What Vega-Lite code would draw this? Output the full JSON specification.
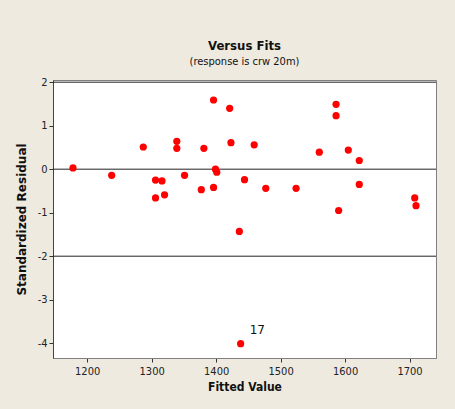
{
  "$schema": "https://vega.github.io/schema/vega-lite/v6.json",
  "autosize": {"type": "none"},
  "width": 383,
  "height": 278,
  "padding": {"left": 53, "top": 80, "right": 19, "bottom": 51},
  "background": "#eeeae0",
  "title": {
    "text": "Versus Fits",
    "subtitle": "(response is crw 20m)",
    "font": "'DejaVu Sans Condensed', 'Liberation Sans', sans-serif",
    "fontSize": 13,
    "fontWeight": "bold",
    "subtitleFont": "'DejaVu Sans Condensed', 'Liberation Sans', sans-serif",
    "subtitleFontSize": 11,
    "subtitlePadding": 3,
    "color": "#111",
    "subtitleColor": "#111",
    "anchor": "middle",
    "offset": 9
  },
  "config": {
    "view": {"stroke": "#808080", "strokeWidth": 1, "fill": "white"},
    "axis": {
      "grid": false,
      "labelFont": "'DejaVu Sans Condensed', 'Liberation Sans', sans-serif",
      "labelFontSize": 11,
      "labelColor": "#222",
      "tickColor": "#333",
      "tickSize": 4,
      "titleColor": "#111"
    }
  },
  "data": {
    "values": [
      {"fit": 1178, "resid": 0.03, "obs": ""},
      {"fit": 1238, "resid": -0.14, "obs": ""},
      {"fit": 1287, "resid": 0.51, "obs": ""},
      {"fit": 1306, "resid": -0.25, "obs": ""},
      {"fit": 1316, "resid": -0.27, "obs": ""},
      {"fit": 1306, "resid": -0.66, "obs": ""},
      {"fit": 1320, "resid": -0.59, "obs": ""},
      {"fit": 1339, "resid": 0.64, "obs": ""},
      {"fit": 1339, "resid": 0.48, "obs": ""},
      {"fit": 1351, "resid": -0.14, "obs": ""},
      {"fit": 1381, "resid": 0.48, "obs": ""},
      {"fit": 1377, "resid": -0.47, "obs": ""},
      {"fit": 1396, "resid": -0.42, "obs": ""},
      {"fit": 1396, "resid": 1.59, "obs": ""},
      {"fit": 1399, "resid": 0.0, "obs": ""},
      {"fit": 1401, "resid": -0.07, "obs": ""},
      {"fit": 1421, "resid": 1.4, "obs": ""},
      {"fit": 1423, "resid": 0.61, "obs": ""},
      {"fit": 1444, "resid": -0.24, "obs": ""},
      {"fit": 1459, "resid": 0.56, "obs": ""},
      {"fit": 1436, "resid": -1.43, "obs": ""},
      {"fit": 1477, "resid": -0.44, "obs": ""},
      {"fit": 1524, "resid": -0.44, "obs": ""},
      {"fit": 1560, "resid": 0.39, "obs": ""},
      {"fit": 1586, "resid": 1.49, "obs": ""},
      {"fit": 1586, "resid": 1.23, "obs": ""},
      {"fit": 1590, "resid": -0.95, "obs": ""},
      {"fit": 1605, "resid": 0.44, "obs": ""},
      {"fit": 1622, "resid": 0.2, "obs": ""},
      {"fit": 1622, "resid": -0.35, "obs": ""},
      {"fit": 1708, "resid": -0.66, "obs": ""},
      {"fit": 1710, "resid": -0.84, "obs": ""},
      {"fit": 1438, "resid": -4.01, "obs": "17"}
    ]
  },
  "layer": [
    {
      "data": {"values": [{"ref": 2}, {"ref": 0}, {"ref": -2}]},
      "mark": {"type": "rule", "color": "#222", "strokeWidth": 1},
      "encoding": {
        "y": {"field": "ref", "type": "quantitative", "scale": {"domain": [-4.34, 2.05]}}
      }
    },
    {
      "mark": {"type": "point", "filled": true, "shape": "circle", "size": 52, "color": "#ff0000", "opacity": 1},
      "encoding": {
        "x": {
          "field": "fit", "type": "quantitative",
          "scale": {"domain": [1147, 1741], "nice": false, "zero": false},
          "axis": {
            "title": "Fitted Value",
            "values": [1200, 1300, 1400, 1500, 1600, 1700],
            "labelExpr": "datum.value + ''",
            "titleFont": "'DejaVu Sans Condensed', 'Liberation Sans', sans-serif",
            "titleFontSize": 12,
            "titleFontWeight": "bold",
            "titlePadding": 5,
            "labelPadding": 3,
            "domainColor": "#808080"
          }
        },
        "y": {
          "field": "resid", "type": "quantitative",
          "scale": {"domain": [-4.34, 2.05], "nice": false, "zero": false},
          "axis": {
            "title": "Standardized Residual",
            "values": [-4, -3, -2, -1, 0, 1, 2],
            "labelExpr": "datum.value + ''",
            "titleFont": "DejaVu Sans",
            "titleFontSize": 12,
            "titleFontWeight": "bold",
            "titlePadding": 9,
            "labelPadding": 2,
            "domainColor": "#444"
          }
        }
      }
    },
    {
      "transform": [{"filter": "datum.obs != ''"}],
      "mark": {"type": "text", "align": "left", "baseline": "middle", "dx": 9, "dy": -14, "fontSize": 12, "font": "DejaVu Sans", "color": "#111"},
      "encoding": {
        "x": {"field": "fit", "type": "quantitative"},
        "y": {"field": "resid", "type": "quantitative"},
        "text": {"field": "obs"}
      }
    }
  ]
}
